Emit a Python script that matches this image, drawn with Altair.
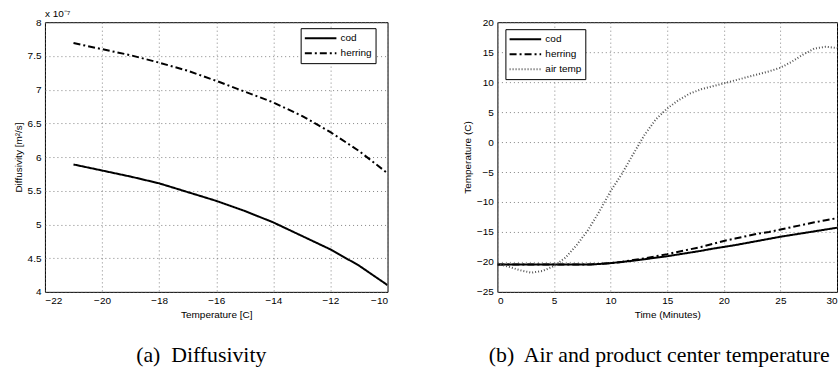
import altair as alt
import pandas as pd

# ---------------- Panel (a): diffusivity ----------------
temp_c = [-21, -20, -19, -18, -17, -16, -15, -14, -13, -12, -11, -10]
cod_diff = [5.89, 5.80, 5.71, 5.61, 5.48, 5.35, 5.20, 5.03, 4.83, 4.63, 4.39, 4.10]
herring_diff = [7.69, 7.60, 7.51, 7.40, 7.28, 7.13, 6.97, 6.81, 6.61, 6.37, 6.09, 5.76]

# ---------------- Panel (b): temperatures ----------------
time_min = list(range(0, 31))
cod_temp = [-20.45, -20.45, -20.45, -20.45, -20.45, -20.45, -20.45, -20.45, -20.45,
            -20.35, -20.2, -20.0, -19.8, -19.55, -19.3, -19.05, -18.75, -18.45,
            -18.15, -17.8, -17.5, -17.2, -16.85, -16.5, -16.15, -15.8, -15.5,
            -15.2, -14.9, -14.6, -14.3]
herring_temp = [-20.45, -20.45, -20.45, -20.45, -20.45, -20.45, -20.45, -20.45, -20.45,
                -20.35, -20.2, -20.0, -19.7, -19.4, -19.05, -18.7, -18.3, -17.9,
                -17.5, -17.0, -16.5, -16.1, -15.7, -15.3, -15.0, -14.6, -14.2,
                -13.8, -13.4, -13.05, -12.7]
air_temp = [-20.3, -20.8, -21.4, -21.8, -21.5, -20.7, -19.3, -17.2, -14.7, -11.6,
            -8.2, -5.3, -2.0, 1.2, 3.8, 5.6, 7.0, 8.1, 8.8, 9.3, 9.8, 10.3, 10.8,
            11.3, 11.8, 12.4, 13.4, 14.6, 15.6, 15.9, 15.7]

series_a = ["cod", "herring"]
series_b = ["cod", "herring", "air temp"]

df_a = pd.DataFrame(
    {"T": temp_c * 2,
     "D": cod_diff + herring_diff,
     "s": ["cod"] * len(temp_c) + ["herring"] * len(temp_c)}
)
df_b = pd.DataFrame(
    {"t": time_min * 3,
     "v": cod_temp + herring_temp + air_temp,
     "s": ["cod"] * 31 + ["herring"] * 31 + ["air temp"] * 31}
)

FONT = "Liberation Sans"
SERIF = "Liberation Serif"

dash_range = [[1, 0], [7, 3, 2, 3], [1, 2]]
color_range = ["#000000", "#000000", "#555555"]
width_range = [2, 2, 1]


def axis(values, fmt, title):
    return alt.Axis(values=values, format=fmt, title=title, grid=True,
                    gridDash=[1, 3], gridColor="#666666", gridWidth=0.8,
                    ticks=False, labelFont=FONT, labelFontSize=10,
                    labelColor="#000000", titleFont=FONT, titleFontSize=10,
                    titleFontWeight="normal", titleColor="#000000",
                    domain=False, labelPadding=4)


def legend_enc(series, n, ox, oy):
    leg = alt.Legend(title=None, orient="none", legendX=ox, legendY=oy,
                     symbolType="stroke", symbolSize=1000, strokeColor="#000000",
                     fillColor="#ffffff", padding=3, labelFont=FONT,
                     labelFontSize=10, labelColor="#000000", rowPadding=1,
                     clipHeight=14, labelOffset=3)
    return dict(
        color=alt.Color("s:N", scale=alt.Scale(domain=series, range=color_range[:n]),
                        legend=leg, sort=series),
        strokeDash=alt.StrokeDash("s:N", scale=alt.Scale(domain=series, range=dash_range[:n]),
                                  legend=leg, sort=series),
        strokeWidth=alt.StrokeWidth("s:N", scale=alt.Scale(domain=series, range=width_range[:n]),
                                    legend=leg, sort=series),
    )


lines_a = alt.Chart(df_a).mark_line(clip=True).encode(
    x=alt.X("T:Q", scale=alt.Scale(domain=[-22, -10], nice=False),
            axis=axis(list(range(-22, -9, 2)), "d", "Temperature [C]")),
    y=alt.Y("D:Q", scale=alt.Scale(domain=[4, 8], nice=False, zero=False),
            axis=axis([4, 4.5, 5, 5.5, 6, 6.5, 7, 7.5, 8], "~g", "Diffusivity [m²/s]")),
    **legend_enc(series_a, 2, 256, 6),
)

exp_df = pd.DataFrame({"lab": ["x 10⁻⁷"]})
exp_text = alt.Chart(exp_df).mark_text(
    align="left", baseline="bottom", font=FONT, fontSize=10, color="#000000"
).encode(text="lab:N", x=alt.value(0), y=alt.value(-3))

panel_a = alt.layer(lines_a, exp_text).properties(
    width=343, height=270,
    title=alt.TitleParams("(a)\u00a0 Diffusivity", orient="bottom", font=SERIF,
                          fontSize=21.8, fontWeight="normal", color="#000000",
                          offset=25, dx=-15),
)

lines_b = alt.Chart(df_b).mark_line(clip=True).encode(
    x=alt.X("t:Q", scale=alt.Scale(domain=[0, 30], nice=False),
            axis=axis(list(range(0, 31, 5)), "d", "Time (Minutes)")),
    y=alt.Y("v:Q", scale=alt.Scale(domain=[-25, 20], nice=False, zero=False),
            axis=axis(list(range(-25, 21, 5)), "d", "Temperature (C)")),
    **legend_enc(series_b, 3, 8, 7),
)

panel_b = lines_b.properties(
    width=340, height=270,
    title=alt.TitleParams("(b)\u00a0 Air and product center temperature", orient="bottom",
                          font=SERIF, fontSize=21.8, fontWeight="normal",
                          color="#000000", offset=25, dx=-8),
)

chart = alt.hconcat(panel_a, panel_b, spacing=73).resolve_scale(
    color="independent", strokeDash="independent", strokeWidth="independent"
).resolve_legend(
    color="independent", strokeDash="independent", strokeWidth="independent"
).configure(
    padding={"left": 12, "top": 8, "right": 0, "bottom": 0},
    background="white",
).configure_view(stroke="#000000", strokeWidth=1)

chart.save("out.html", embed_options={"renderer": "svg", "actions": False})
